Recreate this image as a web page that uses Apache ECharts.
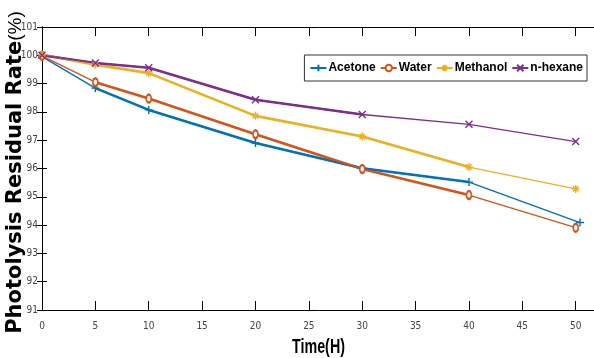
<!DOCTYPE html>
<html>
<head>
<meta charset="utf-8">
<script src="https://cdn.jsdelivr.net/npm/echarts@6/dist/echarts.min.js"></script>
<style>html,body{margin:0;padding:0;background:#fff;}#c{width:594px;height:358px;}</style>
</head>
<body>
<div id="c"></div>
<script>
// Data
var seriesNames = ['Acetone', 'Water', 'Methanol', 'n-hexane'];
var timeAcetone = [0, 5, 10, 20, 30, 40, 50.4];
var timeWater = [0, 5, 10, 20, 30, 40, 50];
var timeMethanol = [0, 5, 10, 20, 30, 40, 50];
var timeHexane = [0, 5, 10, 20, 30, 40, 50];
var acetone = [99.95, 98.84, 98.07, 96.90, 96.01, 95.52, 94.09];
var water = [99.98, 99.05, 98.47, 97.21, 95.98, 95.06, 93.91];
var methanol = [100.02, 99.67, 99.37, 97.86, 97.13, 96.05, 95.28];
var hexane = [100.00, 99.73, 99.56, 98.43, 97.91, 97.56, 96.95];
var xTicks = [0, 5, 10, 15, 20, 25, 30, 35, 40, 45, 50];
var yTicks = [91, 92, 93, 94, 95, 96, 97, 98, 99, 100, 101];
var xTitle = 'Time(H)';
var yTitle = 'Photolysis Residual Rate';
var yUnit = '(%)';

var colors = ['#0072BD', '#D95319', '#EDB120', '#7E2F8E'];
var symbols = ['path://M5,0V10M0,5H10', 'emptyCircle',
  'path://M5,0V10M0,5H10M1.6,1.6L8.4,8.4M8.4,1.6L1.6,8.4',
  'path://M0,0L10,10M10,0L0,10'];
var symSizes = [8, [5, 8], 8, 7];
var xs = [timeAcetone, timeWater, timeMethanol, timeHexane];
var ys = [acetone, water, methanol, hexane];
// thick segment ranges (index start, end)
var thick = [[1, 5], [1, 5], [0, 5], [0, 4]];

var NARROW = "'Liberation Sans Narrow', 'Arial Narrow', 'DejaVu Sans Condensed', 'Liberation Sans', sans-serif";

function pairs(x, y, a, b) {
  var out = [];
  for (var i = a; i <= b; i++) out.push([x[i], y[i]]);
  return out;
}

var series = [];
for (var k = 0; k < 4; k++) {
  series.push({
    name: '_thick' + k, type: 'line', silent: true, symbol: 'none',
    data: pairs(xs[k], ys[k], thick[k][0], thick[k][1]),
    lineStyle: {color: colors[k], width: 2.6}, z: 2
  });
}
for (var k = 0; k < 4; k++) {
  series.push({
    name: seriesNames[k], type: 'line',
    data: pairs(xs[k], ys[k], 0, xs[k].length - 1),
    symbol: symbols[k], symbolSize: symSizes[k],
    lineStyle: {color: colors[k], width: 1.4},
    itemStyle: {color: colors[k], borderColor: colors[k], borderWidth: 1.4},
    z: 3
  });
}

var axisLabelStyle = {fontFamily: NARROW, fontSize: 10, color: '#444'};

var chart = echarts.init(document.getElementById('c'), null, {renderer: 'canvas'});
chart.setOption({
  animation: false,
  backgroundColor: '#fff',
  color: colors,
  grid: {left: 42, top: 27, right: -2, bottom: 48, containLabel: false, outerBoundsMode: 'none'},
  legend: {
    data: seriesNames,
    right: 7, top: 55,
    orient: 'horizontal',
    itemWidth: 16, itemHeight: 8, itemGap: 4,
    padding: [7, 4, 7, 5],
    backgroundColor: '#fff',
    borderColor: '#333', borderWidth: 1,
    textStyle: {fontFamily: 'Liberation Sans', fontWeight: 'bold', fontSize: 12, color: '#000', padding: [0, 0, 0, -3]}
  },
  graphic: [{
    type: 'text', x: 318.5, y: 347, scaleX: 0.68,
    style: {text: xTitle, font: 'bold 21px "Liberation Sans"', fill: '#000',
      textAlign: 'center', textVerticalAlign: 'middle', align: 'center', verticalAlign: 'middle'}
  }, {
    type: 'text', x: 16, y: 172.5, rotation: Math.PI / 2,
    style: {
      text: '{a|' + yTitle + '}{b|' + yUnit + '}',
      rich: {
        a: {fontFamily: 'DejaVu Sans', fontWeight: 'bold', fontSize: 21, fill: '#000', color: '#000'},
        b: {fontFamily: 'Liberation Sans', fontWeight: 'normal', fontSize: 19, fill: '#000', color: '#000'}
      },
      textAlign: 'center', textVerticalAlign: 'middle', align: 'center', verticalAlign: 'middle'
    }
  }],
  xAxis: [{
    type: 'value', min: 0, max: 51.9, interval: 5, position: 'bottom',
    axisLine: {show: true, lineStyle: {color: '#000', width: 1}},
    axisTick: {show: true, inside: true, length: 9, lineStyle: {color: '#000'}},
    axisLabel: Object.assign({margin: 11, showMaxLabel: false, formatter: function (v) { return xTicks.indexOf(v) >= 0 ? String(v) : ''; }}, axisLabelStyle),
    splitLine: {show: false}
  }, {
    type: 'value', min: 0, max: 51.9, interval: 5, position: 'top',
    axisLine: {show: true, lineStyle: {color: '#000', width: 1}},
    axisTick: {show: true, inside: true, length: 9, lineStyle: {color: '#000'}},
    axisLabel: {show: false},
    splitLine: {show: false}
  }],
  yAxis: [{
    type: 'value', min: 91, max: 101, interval: 1, position: 'left',
    axisLine: {show: true, lineStyle: {color: '#000', width: 1}},
    axisTick: {show: true, inside: true, length: 5, lineStyle: {color: '#000'}},
    axisLabel: Object.assign({margin: 4, formatter: function (v) { return yTicks.indexOf(v) >= 0 ? String(v) : ''; }}, axisLabelStyle),
    splitLine: {show: false}
  }, {
    type: 'value', min: 91, max: 101, interval: 1, position: 'right',
    axisLine: {show: true, lineStyle: {color: '#000', width: 1}},
    axisTick: {show: true, inside: true, length: 5, lineStyle: {color: '#000'}},
    axisLabel: {show: false},
    splitLine: {show: false}
  }],
  series: series
});
</script>
</body>
</html>
